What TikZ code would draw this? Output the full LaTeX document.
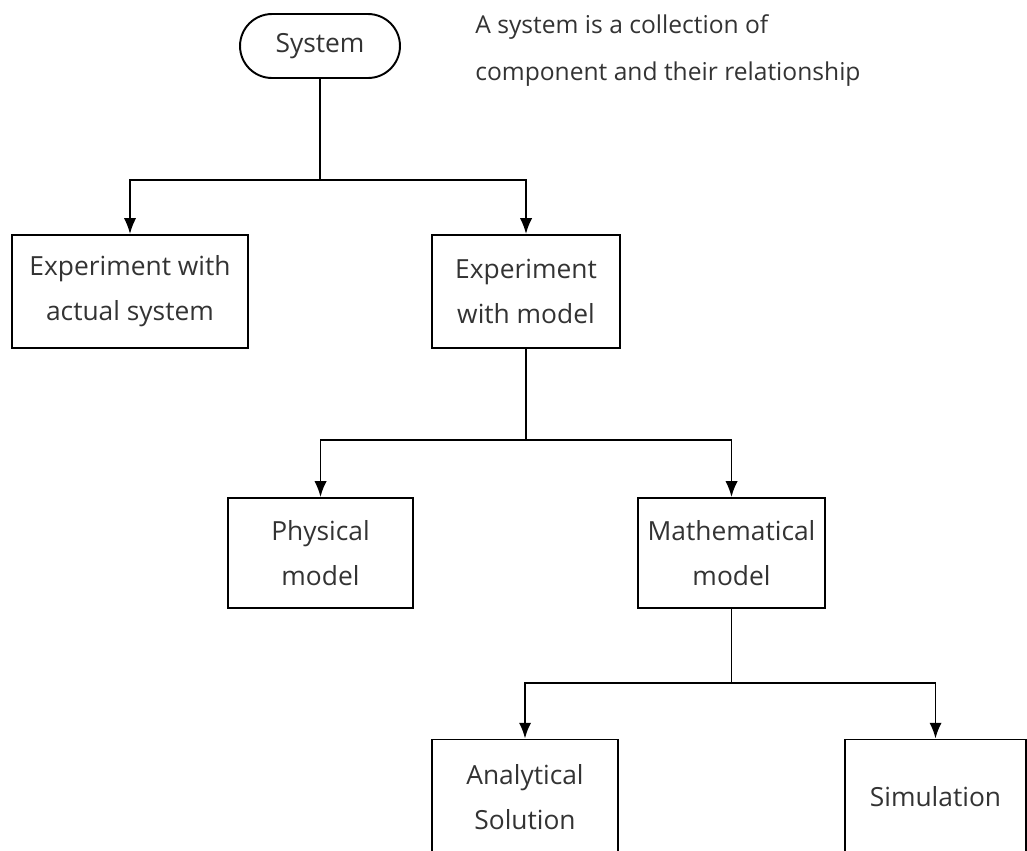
\documentclass[tikz,border=0pt]{standalone}
\usepackage{fontspec}
\setmainfont{Open Sans}
\usetikzlibrary{arrows.meta}

\begin{document}
\begin{tikzpicture}[x=0.02cm, y=-0.02cm,
  box/.style={draw, line width=1.1pt, align=center, inner sep=0pt, text=black!80,
    font=\fontsize{15}{25.6}\selectfont},
  term/.style={box, rounded corners=0.64cm, minimum width=3.2cm, minimum height=1.28cm},
  note/.style={align=left, inner sep=0pt, text=black!80, font=\fontsize{14}{26.7}\selectfont},
  link/.style={line width=1.1pt},
  arrow/.style={link, -{Latex[length=9pt,width=7pt]}}]
  \useasboundingbox (0,0) rectangle (1027,850);

  % System and its description
  \node[term] (sys) at (320,46) {System};
  \node[note, anchor=north west] (desc) at (475,14) {A system is a collection of\\component and their relationship};

  % first level
  \node[box, minimum width=4.72cm, minimum height=2.26cm] (actual) at (130,291.5) {Experiment with\\actual system};
  \node[box, minimum width=3.76cm, minimum height=2.26cm] (model) at (526,291.5) {Experiment\\with model};

  % second level
  \node[box, minimum width=3.7cm, minimum height=2.2cm] (phys) at (320.5,553) {Physical\\model};
  \node[box, minimum width=3.74cm, minimum height=2.2cm] (math) at (731.5,553) {Mathematical\\model};

  % third level
  \node[box, minimum width=3.72cm, minimum height=2.3cm] (anal) at (525,797) {Analytical\\Solution};
  \node[box, minimum width=3.62cm, minimum height=2.3cm] (sim) at (935.5,797) {Simulation};

  % connectors
  \coordinate (j1) at (320,180);
  \coordinate (j2) at (526,440);
  \coordinate (j3) at (731.5,683);

  \draw[link] (sys) -- (j1);
  \draw[arrow] (j1) -| (actual);
  \draw[arrow] (j1) -| (model);

  \draw[link] (model) -- (j2);
  \draw[arrow] (j2) -| (phys);
  \draw[arrow] (j2) -| (math);

  \draw[link] (math) -- (j3);
  \draw[arrow] (j3) -| (anal);
  \draw[arrow] (j3) -| (sim);
\end{tikzpicture}
\end{document}
